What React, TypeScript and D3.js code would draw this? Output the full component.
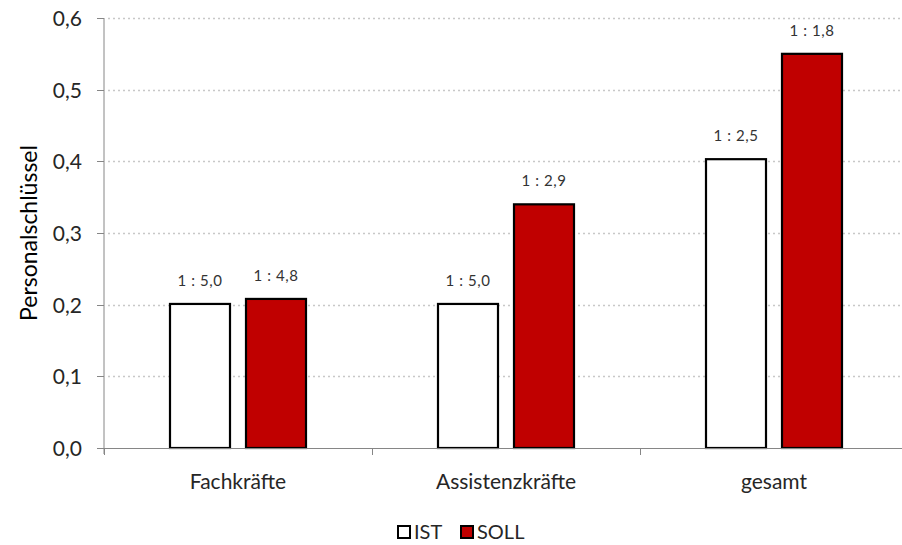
import React from "react";
import * as d3 from "d3";

const categories = ["Fachkräfte", "Assistenzkräfte", "gesamt"];
const seriesNames = ["IST", "SOLL"];
const istValues = [0.201, 0.201, 0.403];
const sollValues = [0.208, 0.34, 0.55];
const istLabels = ["1 : 5,0", "1 : 5,0", "1 : 2,5"];
const sollLabels = ["1 : 4,8", "1 : 2,9", "1 : 1,8"];
const yTicks = [0, 0.1, 0.2, 0.3, 0.4, 0.5, 0.6];
const seriesColors = ["#ffffff", "#c00000"];

const W = 902;
const H = 545;
const left = 104;
const right = 908;
const top = 18;
const bottom = 448;
const FONT = "Lato, 'Open Sans', sans-serif";

export default function App() {
  const y = d3.scaleLinear().domain([0, 0.6]).range([bottom, top]);
  const x0 = d3.scaleBand<string>().domain(categories).range([left, right]).padding(0);
  const groupW = 136;
  const x1 = d3
    .scaleBand<string>()
    .domain(seriesNames)
    .range([0, groupW])
    .paddingInner(16 / 76)
    .paddingOuter(0);
  const offset = (x0.bandwidth() - groupW) / 2;
  const series = [
    { name: "IST", values: istValues, labels: istLabels, color: seriesColors[0] },
    { name: "SOLL", values: sollValues, labels: sollLabels, color: seriesColors[1] },
  ];
  const fmt = (v: number) => v.toFixed(1).replace(".", ",");
  const boundaries = categories.map((c) => x0(c)!).concat([right]);

  return (
    <svg width={W} height={H} style={{ position: "absolute", left: 0, top: 0, background: "#fff" }}>
      {yTicks.slice(1).map((t) => (
        <line
          key={"g" + t}
          x1={left + 4}
          x2={right}
          y1={Math.round(y(t)) + 0.5}
          y2={Math.round(y(t)) + 0.5}
          stroke="#c8c8c8"
          strokeWidth={1.5}
          strokeDasharray="2,3"
        />
      ))}
      {categories.map((c, i) =>
        series.map((s) => {
          const bx = x0(c)! + offset + x1(s.name)!;
          const by = y(s.values[i]);
          return (
            <g key={c + s.name}>
              <rect
                x={bx}
                y={by}
                width={x1.bandwidth()}
                height={bottom - by}
                fill={s.color}
                stroke="#000"
                strokeWidth={2.2}
              />
              <text
                x={bx + x1.bandwidth() / 2}
                y={by - 18}
                textAnchor="middle"
                fontFamily={FONT}
                fontSize={15}
                letterSpacing={0.6}
                fill="#333333"
              >
                {s.labels[i]}
              </text>
            </g>
          );
        })
      )}
      <line x1={left} x2={left} y1={top} y2={bottom + 6} stroke="#868686" strokeWidth={1} />
      <line x1={left - 6} x2={right} y1={bottom + 0.5} y2={bottom + 0.5} stroke="#868686" strokeWidth={1} />
      {yTicks.map((t) => (
        <g key={"t" + t}>
          <line x1={left - 7} x2={left} y1={Math.round(y(t)) + 0.5} y2={Math.round(y(t)) + 0.5} stroke="#868686" />
          <text
            x={left - 22}
            y={y(t) + 8}
            textAnchor="end"
            fontFamily={FONT}
            fontSize={21}
            fill="#262626"
          >
            {fmt(t)}
          </text>
        </g>
      ))}
      {boundaries.map((b, i) => (
        <line key={"xb" + i} x1={b + 0.5} x2={b + 0.5} y1={bottom} y2={bottom + 7} stroke="#868686" />
      ))}
      {categories.map((c) => (
        <text
          key={"c" + c}
          x={x0(c)! + x0.bandwidth() / 2}
          y={489}
          textAnchor="middle"
          fontFamily={FONT}
          fontSize={21}
          fill="#262626"
        >
          {c}
        </text>
      ))}
      <text
        transform={`translate(37, ${(top + bottom) / 2}) rotate(-90)`}
        textAnchor="middle"
        fontFamily={FONT}
        fontSize={23}
        fill="#000"
      >
        Personalschlüssel
      </text>
      {series.map((s, i) => {
        const lx = i === 0 ? 398 : 461;
        return (
          <g key={"l" + s.name}>
            <rect x={lx} y={526} width={12} height={12} fill={s.color} stroke="#000" strokeWidth={2} />
            <text x={lx + 16} y={539} fontFamily={FONT} fontSize={20} fill="#262626">
              {s.name}
            </text>
          </g>
        );
      })}
    </svg>
  );
}
